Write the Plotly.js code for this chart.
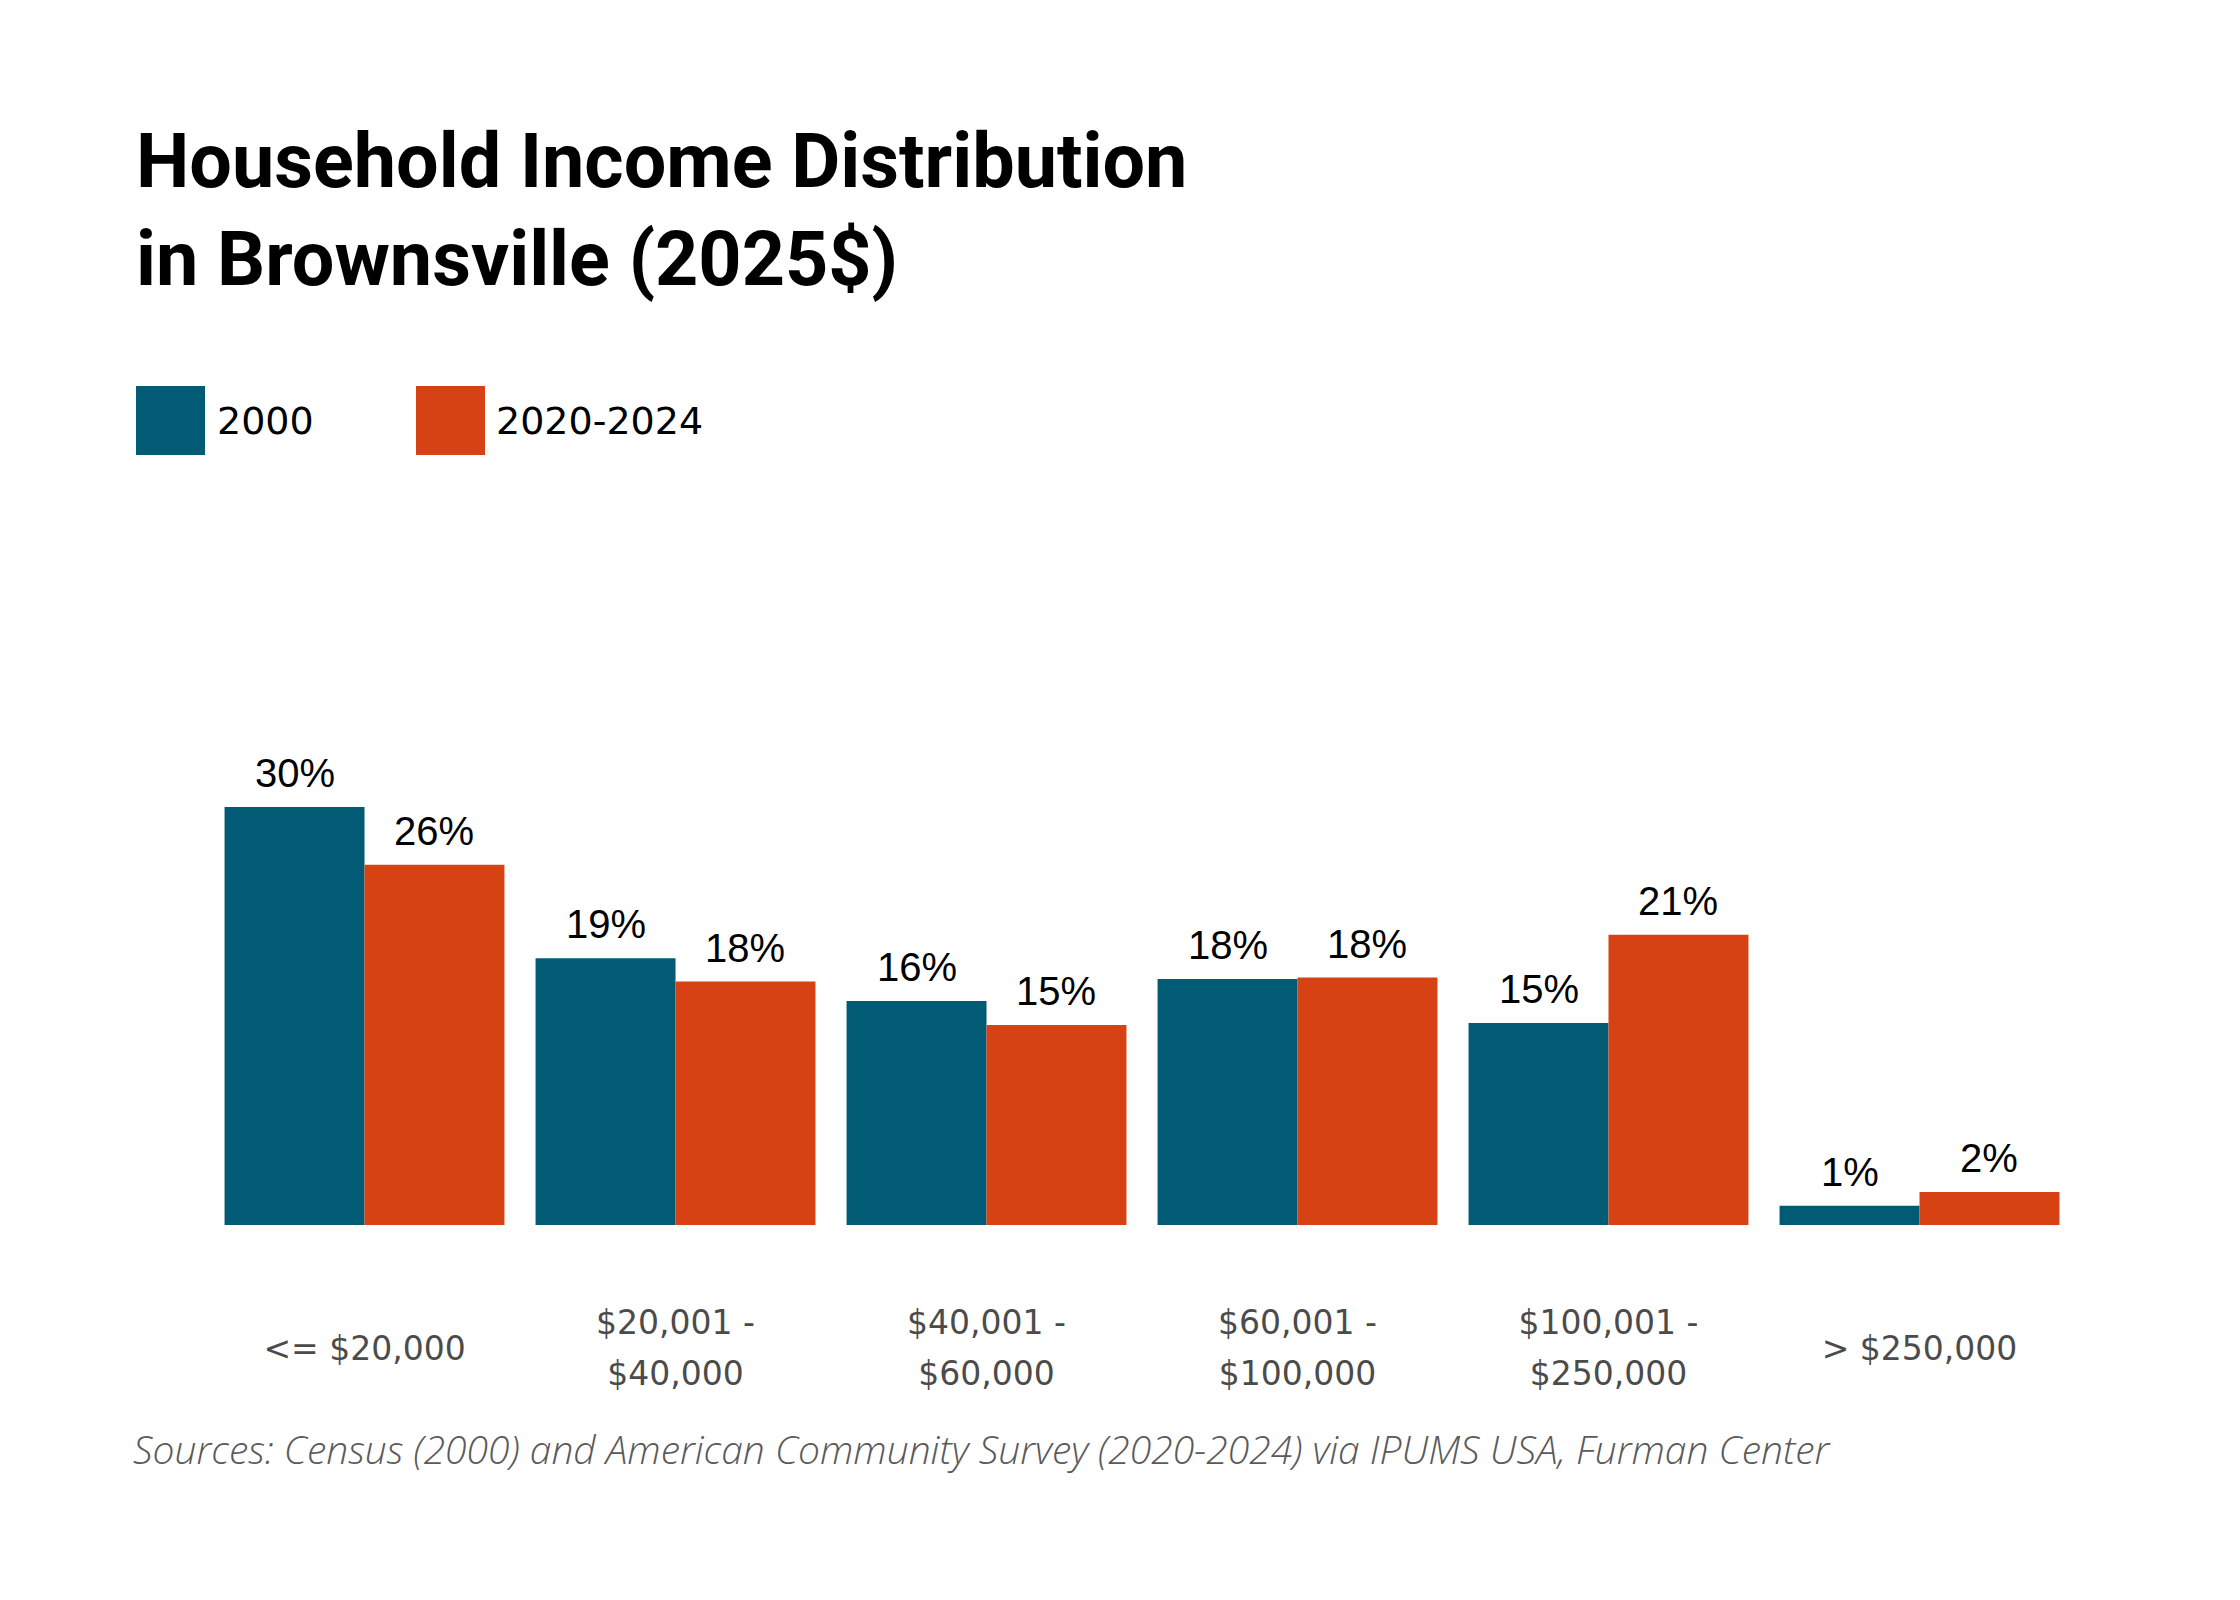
<!DOCTYPE html>
<html>
<head>
<meta charset="utf-8">
<script src="https://cdn.plot.ly/plotly-3.0.1.min.js"></script>
<style>html,body{margin:0;padding:0;background:#fff;}#chart{width:2240px;height:1600px;}</style>
</head>
<body>
<div id="chart"></div>
<script>
// ---- data ----
const categories = ["<= $20,000", "$20,001 -|$40,000", "$40,001 -|$60,000", "$60,001 -|$100,000", "$100,001 -|$250,000", "> $250,000"];
const seriesNames = ["2000", "2020-2024"];
const values2000 = [30.4, 19.4, 16.3, 17.9, 14.7, 1.4];
const values2024 = [26.2, 17.7, 14.55, 18.0, 21.1, 2.4];

// ---- style ----
const colors = ["#015B75", "#D74214"];
const W = 2240, H = 1600;
const M = {l: 209, r: 165, t: 744, b: 375};
const bargap = 0.1;
const plotW = W - M.l - M.r, plotH = H - M.t - M.b;
const yMax = plotH / 13.75;

function esc(s){ return s.replace(/&/g,'&amp;').replace(/</g,'&lt;').replace(/>/g,'&gt;'); }
const tickFontPx = 33;
function tickText(c){
  const parts = c.split('|').map(p => "<span style='font-size:" + tickFontPx + "px'>" + esc(p) + "</span>");
  return parts.length === 1 ? " <br>" + parts[0] : parts[0] + "<br> <br>" + parts[1];
}
const tickTexts = categories.map(tickText);
const xs = categories.map((c, i) => i);

const traces = [values2000, values2024].map((vals, k) => ({
  type: 'bar', x: xs, y: vals, name: seriesNames[k],
  marker: {color: colors[k], line: {width: 0}},
  hoverinfo: 'skip', showlegend: false
}));

// bar value labels
const catPx = plotW / categories.length;
const barPx = catPx * (1 - bargap) / 2;
const annotations = [];
[values2000, values2024].forEach((vals, k) => {
  vals.forEach((v, i) => {
    annotations.push({
      x: xs[i], y: v, xref: 'x', yref: 'y',
      text: Math.round(v) + '%', showarrow: false,
      xanchor: 'center', yanchor: 'bottom',
      xshift: (k === 0 ? -1 : 1) * barPx / 2, yshift: 10,
      font: {family: 'Liberation Sans, Arial, sans-serif', size: 40, color: '#000'}
    });
  });
});

// pixel -> paper helpers (for legend / notes)
const px2x = p => (p - M.l) / plotW;
const py2y = p => (H - M.b - p) / plotH;

// legend (swatches + labels)
const legendItems = [{x0: 136, label: 215}, {x0: 416, label: 494}];
const shapes = legendItems.map((it, k) => ({
  type: 'rect', xref: 'paper', yref: 'paper',
  x0: px2x(it.x0), x1: px2x(it.x0 + 69), y0: py2y(455), y1: py2y(386),
  fillcolor: colors[k], line: {width: 0}
}));
legendItems.forEach((it, k) => {
  annotations.push({
    xref: 'paper', yref: 'paper', x: px2x(it.label), y: py2y(421),
    xanchor: 'left', yanchor: 'middle', showarrow: false,
    text: seriesNames[k],
    font: {family: 'DejaVu Sans, sans-serif', size: 38, color: '#000'}
  });
});

// source note
annotations.push({
  xref: 'paper', yref: 'paper', x: px2x(131), y: py2y(1477),
  xanchor: 'left', yanchor: 'bottom', showarrow: false,
  text: 'Sources: Census (2000) and American Community Survey (2020-2024) via IPUMS USA, Furman Center',
  font: {family: 'Open Sans, sans-serif', size: 39, color: '#5a5a5a', style: 'italic', weight: 300}
});

const layout = {
  width: W, height: H,
  margin: M,
  paper_bgcolor: '#fff', plot_bgcolor: '#fff',
  barmode: 'group', bargap: bargap, bargroupgap: 0,
  title: {
    text: 'Household Income Distribution<br>in Brownsville (2025$)',
    xref: 'container', yref: 'container', x: 136 / W, xanchor: 'left',
    y: 1 - 187 / H, yanchor: 'top',
    font: {family: 'Roboto, sans-serif', size: 75.5, weight: 700, color: '#000'}
  },
  xaxis: {
    type: 'linear', tickmode: 'array', tickvals: xs, ticktext: tickTexts,
    range: [-0.5, categories.length - 0.5],
    showgrid: false, zeroline: false, showline: false, ticks: '',
    tickfont: {family: 'DejaVu Sans, sans-serif', size: 19.8, color: '#4b4b4b'},
    ticklabelstandoff: 88, automargin: false, fixedrange: true
  },
  yaxis: {range: [0, yMax], visible: false, fixedrange: true, automargin: false},
  shapes: shapes,
  annotations: annotations,
  showlegend: false
};

Plotly.newPlot('chart', traces, layout, {displayModeBar: false, staticPlot: true});
</script>
</body>
</html>
